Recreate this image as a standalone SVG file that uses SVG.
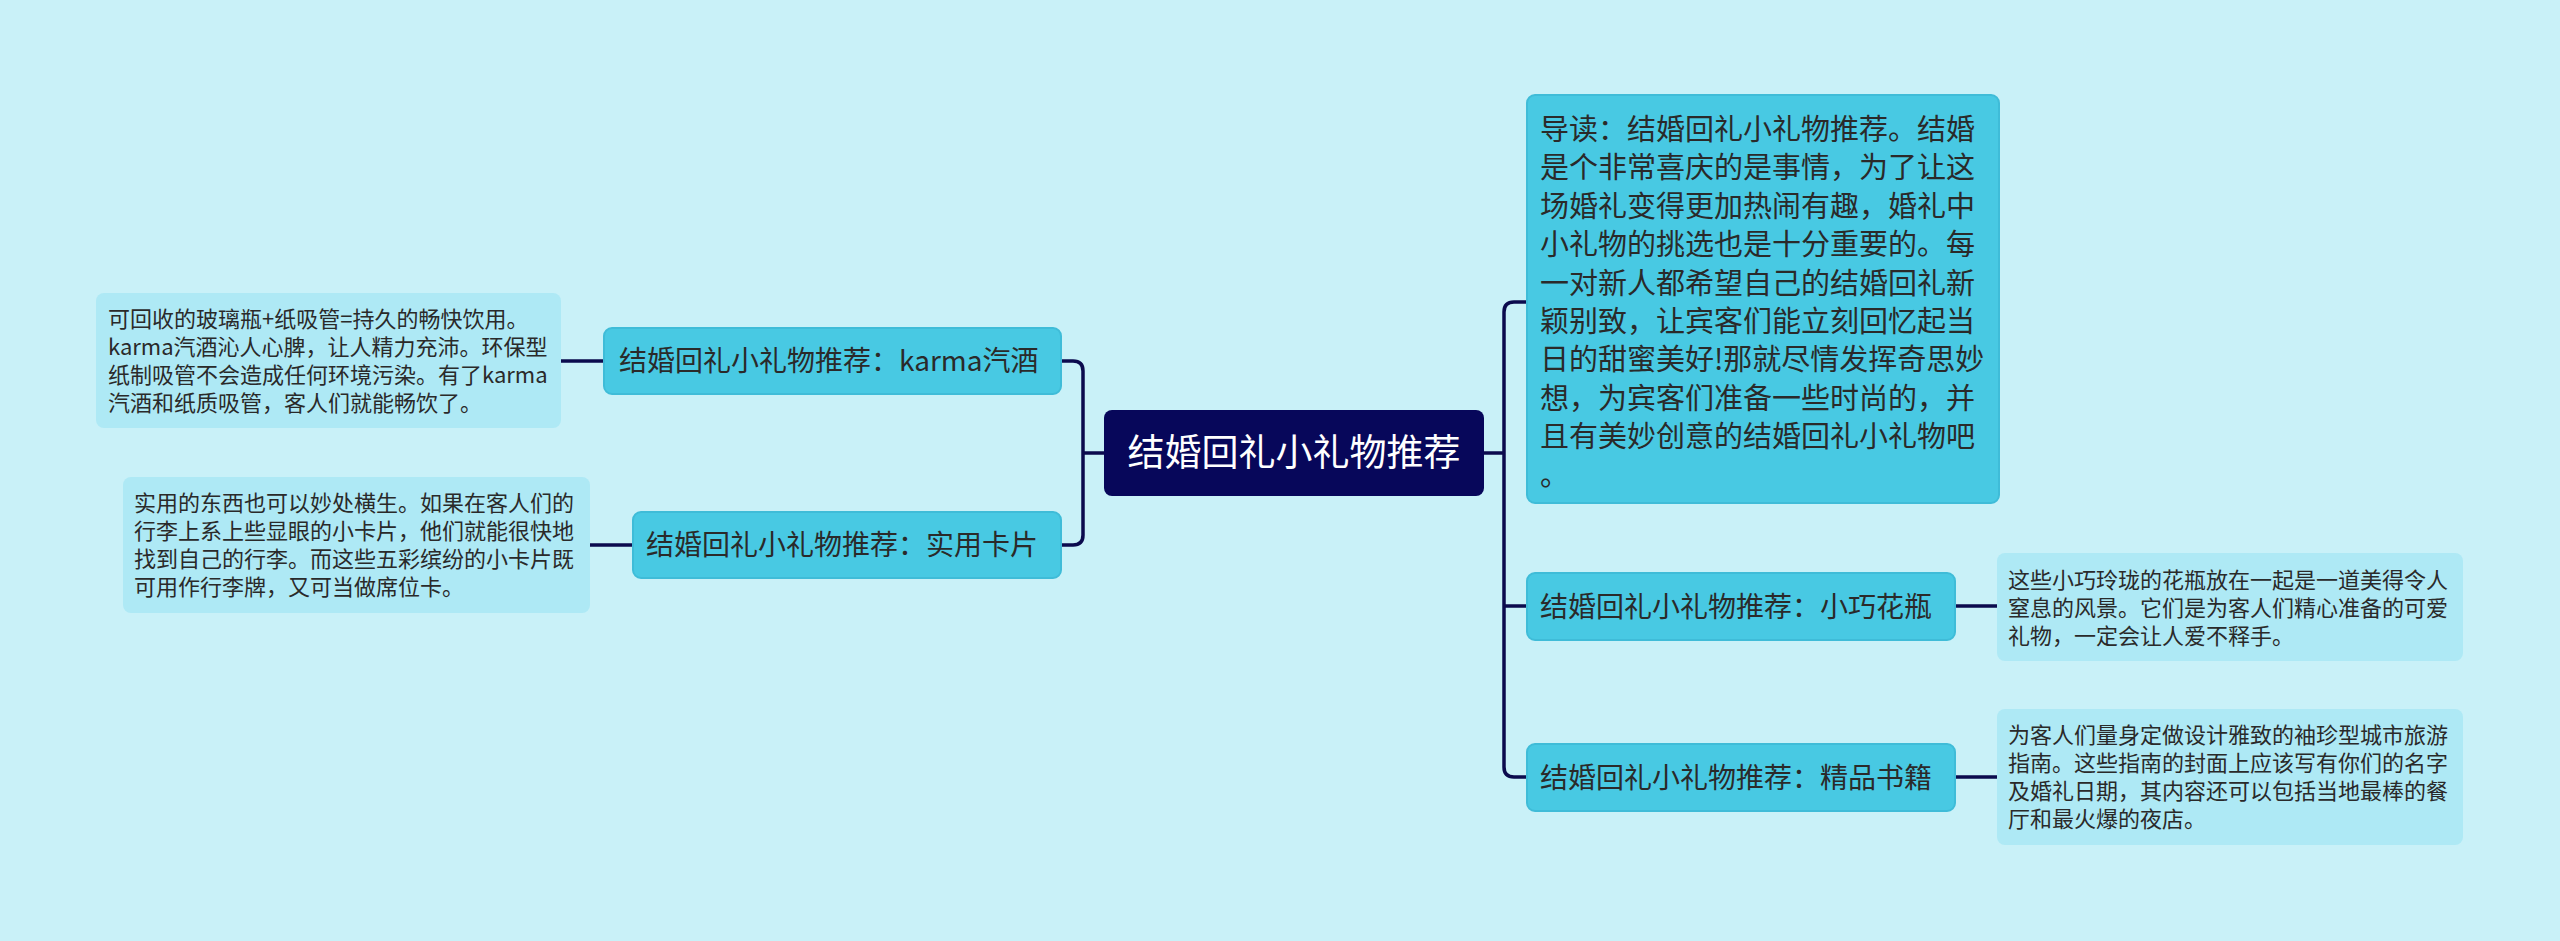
<svg xmlns="http://www.w3.org/2000/svg" width="2560" height="941" viewBox="0 0 2560 941">
<style>
text{font-family:"Noto Sans CJK SC","Noto Sans",sans-serif;fill:#2a2a2a}
.mid{fill:#48c9e3;stroke:#3fbcd8;stroke-width:2}
.leaf{fill:#aee9f5}
.c{fill:none;stroke:#0b0b4e;stroke-width:3.5}
.t28{font-size:28px}
.t22{font-size:22px}
</style>
<rect width="2560" height="941" fill="#c9f1f8"/>
<g id="connectors">
<path class="c" d="M1104 453H1083M1061 361H1073Q1083 361 1083 371V535Q1083 545 1073 545H1061"/>
<path class="c" d="M561 361H604M590 545H633"/>
<path class="c" d="M1484 453H1504M1527 302H1514Q1504 302 1504 312V767Q1504 777 1514 777H1527M1504 606H1527"/>
<path class="c" d="M1955 606H1997M1955 777H1997"/>
</g>
<g id="root">
<rect x="1104" y="410" width="380" height="86" rx="8" fill="#07075a"/>
<text x="1294" y="466" font-size="37" text-anchor="middle" style="fill:#fff">结婚回礼小礼物推荐</text>
</g>
<g id="intro">
<rect class="mid" x="1527" y="95" width="472" height="408" rx="8"/>
<text font-size="29"><tspan x="1540" y="140">导读：结婚回礼小礼物推荐。结婚</tspan><tspan x="1540" y="178.4">是个非常喜庆的是事情，为了让这</tspan><tspan x="1540" y="216.8">场婚礼变得更加热闹有趣，婚礼中</tspan><tspan x="1540" y="255.2">小礼物的挑选也是十分重要的。每</tspan><tspan x="1540" y="293.6">一对新人都希望自己的结婚回礼新</tspan><tspan x="1540" y="332">颖别致，让宾客们能立刻回忆起当</tspan><tspan x="1540" y="370.4">日的甜蜜美好!那就尽情发挥奇思妙</tspan><tspan x="1540" y="408.8">想，为宾客们准备一些时尚的，并</tspan><tspan x="1540" y="447.2">且有美妙创意的结婚回礼小礼物吧</tspan><tspan x="1540" y="485.6">。</tspan></text>
</g>
<g id="vase">
<rect class="mid" x="1527" y="573" width="428" height="67" rx="8"/>
<text class="t28" x="1540" y="617">结婚回礼小礼物推荐：小巧花瓶</text>
</g>
<g id="vase-leaf">
<rect class="leaf" x="1997" y="553" width="466" height="108" rx="8"/>
<text class="t22"><tspan x="2008" y="588">这些小巧玲珑的花瓶放在一起是一道美得令人</tspan><tspan x="2008" y="616">窒息的风景。它们是为客人们精心准备的可爱</tspan><tspan x="2008" y="644">礼物，一定会让人爱不释手。</tspan></text>
</g>
<g id="book">
<rect class="mid" x="1527" y="744" width="428" height="67" rx="8"/>
<text class="t28" x="1540" y="788">结婚回礼小礼物推荐：精品书籍</text>
</g>
<g id="book-leaf">
<rect class="leaf" x="1997" y="709" width="466" height="136" rx="8"/>
<text class="t22"><tspan x="2008" y="743">为客人们量身定做设计雅致的袖珍型城市旅游</tspan><tspan x="2008" y="771">指南。这些指南的封面上应该写有你们的名字</tspan><tspan x="2008" y="799">及婚礼日期，其内容还可以包括当地最棒的餐</tspan><tspan x="2008" y="827">厅和最火爆的夜店。</tspan></text>
</g>
<g id="karma">
<rect class="mid" x="604" y="328" width="457" height="66" rx="8"/>
<text class="t28" x="619" y="371">结婚回礼小礼物推荐：karma汽酒</text>
</g>
<g id="karma-leaf">
<rect class="leaf" x="96" y="293" width="465" height="135" rx="8"/>
<text class="t22"><tspan x="108" y="327">可回收的玻璃瓶+纸吸管=持久的畅快饮用。</tspan><tspan x="108" y="355">karma汽酒沁人心脾，让人精力充沛。环保型</tspan><tspan x="108" y="383">纸制吸管不会造成任何环境污染。有了karma</tspan><tspan x="108" y="411">汽酒和纸质吸管，客人们就能畅饮了。</tspan></text>
</g>
<g id="card">
<rect class="mid" x="633" y="512" width="428" height="66" rx="8"/>
<text class="t28" x="646" y="555">结婚回礼小礼物推荐：实用卡片</text>
</g>
<g id="card-leaf">
<rect class="leaf" x="123" y="477" width="467" height="136" rx="8"/>
<text class="t22"><tspan x="134" y="511">实用的东西也可以妙处横生。如果在客人们的</tspan><tspan x="134" y="539">行李上系上些显眼的小卡片，他们就能很快地</tspan><tspan x="134" y="567">找到自己的行李。而这些五彩缤纷的小卡片既</tspan><tspan x="134" y="595">可用作行李牌，又可当做席位卡。</tspan></text>
</g>
</svg>
